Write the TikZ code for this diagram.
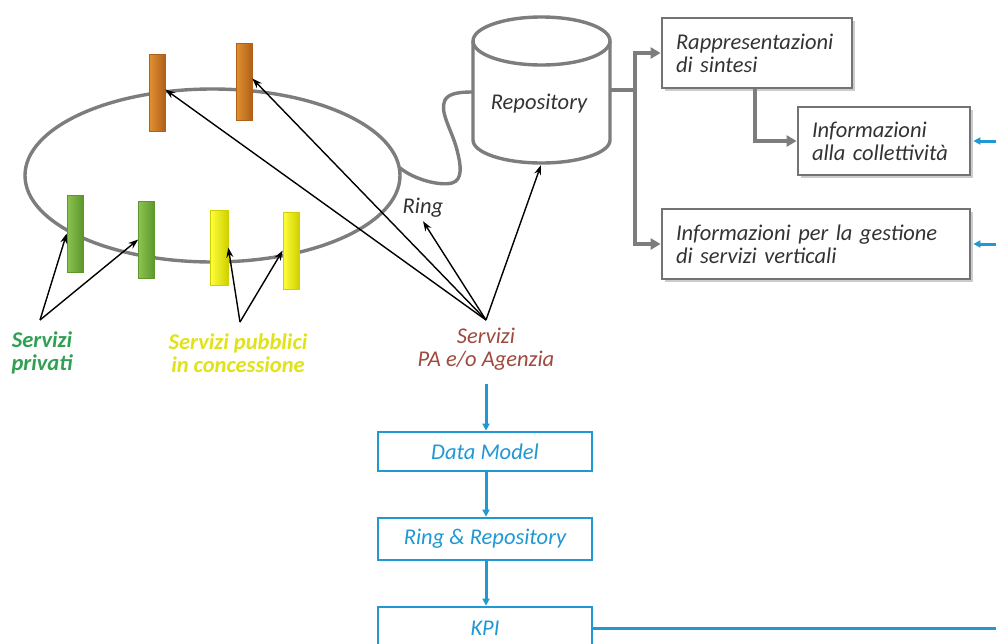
\documentclass[tikz,border=0pt]{standalone}
\usepackage{fontspec}
\setmainfont{Carlito}
\usetikzlibrary{arrows.meta,shadows}

\definecolor{ringgray}{RGB}{125,125,125}
\definecolor{boxgray}{RGB}{115,115,115}
\definecolor{flowblue}{RGB}{32,152,212}
\definecolor{paBrown}{RGB}{158,74,62}
\definecolor{privGreen}{RGB}{48,160,82}
\definecolor{pubYellow}{RGB}{226,226,24}
\definecolor{orLight}{RGB}{226,146,48}
\definecolor{orDark}{RGB}{176,96,24}
\definecolor{grLight}{RGB}{140,196,80}
\definecolor{grDark}{RGB}{92,150,44}
\definecolor{yeLight}{RGB}{255,255,60}
\definecolor{yeDark}{RGB}{208,208,0}

\newcommand\lblfont{\fontsize{22.5}{23}\selectfont\itshape}

\tikzset{
  gline/.style={draw=ringgray, line width=3.4pt},
  garrow/.style={gline, -{Triangle[length=10pt,width=11pt]}},
  parrow/.style={draw=black, line width=1.4pt, -{Stealth[length=10pt,width=7pt]}},
  flowline/.style={draw=flowblue, line width=3pt},
  barrow/.style={flowline, -{Triangle[length=7pt,width=7pt]}},
  gbox/.style={draw=boxgray, line width=2.8pt, fill=white, align=left,
    inner xsep=14pt, inner ysep=0pt, font=\lblfont, text=black!80,
    drop shadow={shadow xshift=3pt, shadow yshift=-3pt, opacity=0.4, fill=gray}},
  bbox/.style={draw=flowblue, line width=2.8pt, fill=white, text=flowblue,
    font=\lblfont, minimum width=214pt, inner sep=0pt},
  postbar/.style={rectangle, minimum width=16pt, inner sep=0pt, line width=0.6pt},
  orbar/.style={postbar, draw=orDark, left color=orLight, right color=orDark},
  grbar/.style={postbar, draw=grDark, left color=grLight, right color=grDark},
  yebar/.style={postbar, draw=yeDark, left color=yeLight, right color=yeDark},
  catlabel/.style={align=center, font=\lblfont\bfseries, inner sep=0pt}
}

\begin{document}
\begin{tikzpicture}[x=1pt,y=-1pt]
\useasboundingbox (0,0) rectangle (996,643);
\fill[white] (0,0) rectangle (996,643);

% ring and its link to the repository
\draw[gline] (212.5,175.5) ellipse[x radius=187.5, y radius=86.5];
\coordinate (ringR) at (400,168);
\coordinate (repoL) at (473,92);
\draw[gline] (ringR) .. controls (415,180) and (440,186) .. (452,183)
  .. controls (463,180) and (461,165) .. (457,150)
  .. controls (452,130) and (439,112) .. (445,100)
  .. controls (449,93) and (460,92) .. (repoL);

% repository cylinder
\filldraw[gline, fill=white] (473,41) -- (473,140)
  arc[start angle=180, end angle=0, x radius=68.5, y radius=23] -- (610,41);
\draw[gline, fill=white] (541.5,41) ellipse[x radius=68.5, y radius=24];
\node[font=\lblfont, text=black!80] (repo) at (539,104) {Repository};
\coordinate (repoR) at (610,90);
\coordinate (repoB) at (541,165);

% posts on the ring
\node[orbar, minimum height=77pt] (o1) at (157,92.5) {};
\node[orbar, minimum height=77pt] (o2) at (244,81.5) {};
\node[grbar, minimum height=77pt] (g1) at (75,233.5) {};
\node[grbar, minimum height=77pt] (g2) at (146.5,239.5) {};
\node[yebar, minimum height=75pt, minimum width=18pt] (y1) at (219,247.5) {};
\node[yebar, minimum height=77pt] (y2) at (291,250.5) {};

% labels
\node[font=\lblfont, text=black!80] (ringlbl) at (423,208) {Ring};
\node[catlabel, text=privGreen] (priv) at (42,353) {Servizi\\privati};
\node[catlabel, text=pubYellow] (pub) at (238,353) {Servizi pubblici\\in concessione};
\node[align=center, font=\lblfont, text=paBrown, inner sep=0pt] (pa) at (486,349) {Servizi\\PA e/o Agenzia};

% pointers
\coordinate (pv0) at (40,320);
\coordinate (pb0) at (240,322);
\coordinate (pa0) at (486,320);
\draw[parrow] (pv0) -- (g1.west);
\draw[parrow] (pv0) -- (g2.west);
\draw[parrow] (pb0) -- (y1.east);
\draw[parrow] (pb0) -- (y2.west);
\draw[parrow] (pa0) -- ([yshift=3pt]o1.east);
\draw[parrow] (pa0) -- ([yshift=3pt]o2.east);
\draw[parrow] (pa0) -- (ringlbl.south);
\draw[parrow] (pa0) -- (repoB);

% outputs of the repository
\node[gbox, minimum width=190pt, minimum height=70pt, text width=162pt] (rap) at (757,53)
  {Rappresentazioni\\di sintesi};
\node[gbox, minimum width=172pt, minimum height=68pt, text width=144pt] (coll) at (884,141)
  {Informazioni\\alla collettività};
\node[gbox, minimum width=308pt, minimum height=70pt, text width=280pt] (vert) at (816,244)
  {Informazioni per la gestione\\di servizi verticali};
\coordinate (tap) at (635,90);
\coordinate (branch) at (755,0);
\draw[gline] (repoR) -- (tap);
\draw[garrow] (tap) |- (rap.west);
\draw[garrow] (tap) |- (vert.west);
\draw[garrow] (rap.south -| branch) |- (coll.west);

% process chain
\coordinate (pastart) at (486,384);
\node[bbox, minimum height=39pt] (dm) at (485,451.5) {Data Model};
\node[bbox, minimum height=42pt] (rr) at (485,539) {Ring \& Repository};
\node[bbox, minimum height=42pt] (kpi) at (485,628) {KPI};
\draw[barrow] (pastart) -- (pastart |- dm.north);
\draw[barrow] (pastart |- dm.south) -- (pastart |- rr.north);
\draw[barrow] (pastart |- rr.south) -- (pastart |- kpi.north);
\coordinate (kpiR) at (996,628);
\draw[flowline] (kpi.east) -- (kpiR);
\coordinate (edge1) at (996,141);
\coordinate (edge2) at (996,244);
\draw[barrow] (edge1) -- ([xshift=2pt]coll.east);
\draw[barrow] (edge2) -- ([xshift=2pt]vert.east);
\end{tikzpicture}
\end{document}
